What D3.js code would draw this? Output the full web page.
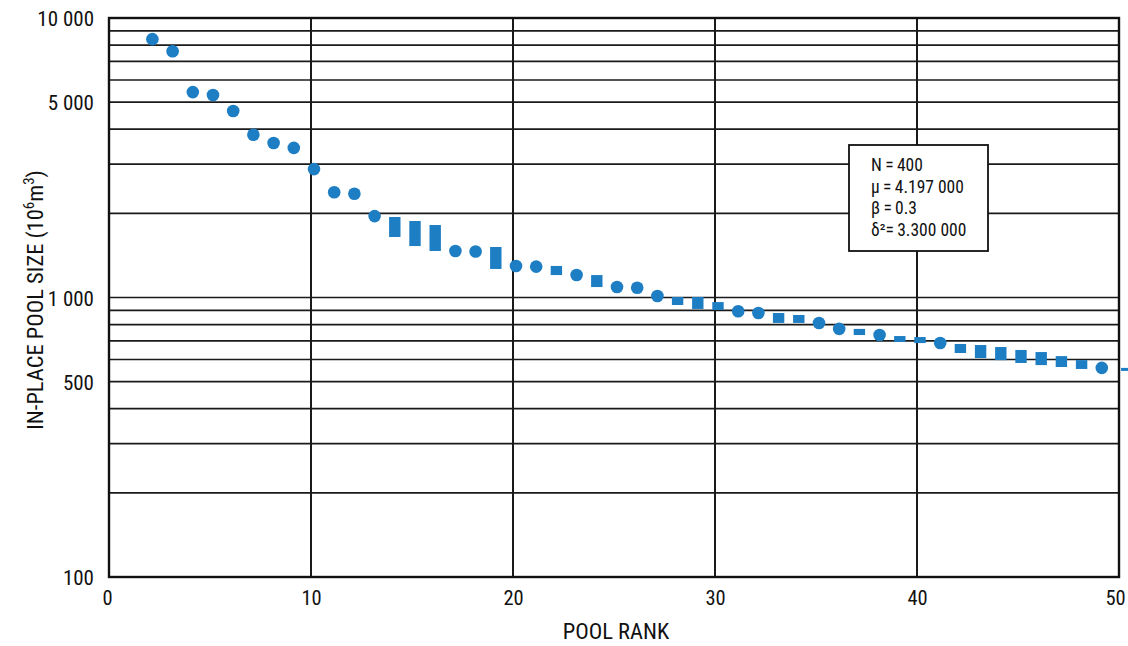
<!DOCTYPE html>
<html>
<head>
<meta charset="utf-8">
<script src="https://cdn.jsdelivr.net/npm/d3@7"></script>
<style>
  html, body { margin: 0; padding: 0; background: #fff; }
  svg { display: block; }
  text { font-family: "Liberation Sans Narrow", "Arial Narrow", "Roboto Condensed", "Liberation Sans", sans-serif; fill: #111; }
</style>
</head>
<body>
<svg id="chart" width="1128" height="646"></svg>
<script>
// ---- data ----
const circleRanks  = [2, 3, 4, 5, 6, 7, 8, 9, 10, 11, 12, 13, 17, 18, 20, 21, 23, 25, 26, 27, 31, 32, 35, 36, 38, 41, 49];
const circleValues = [8400, 7600, 5430, 5300, 4650, 3820, 3570, 3430, 2880, 2380, 2350, 1955, 1467, 1460, 1297, 1290, 1203, 1090, 1083, 1012, 893, 880, 811, 772, 734, 687, 560];

const rectRanks = [14, 15, 16, 19, 22, 24, 28, 29, 30, 33, 34, 37, 39, 40, 42, 43, 44, 45, 46, 47, 48];
const rectHigh  = [1941, 1878, 1817, 1516, 1297, 1203, 1004, 1004, 963, 880, 866, 772, 728, 722, 682, 676, 665, 649, 638, 617, 597];
const rectLow   = [1646, 1528, 1467, 1265, 1203, 1090, 940, 910, 902, 811, 811, 734, 693, 687, 633, 607, 597, 583, 573, 564, 555];

const dashRanks  = [50.2];
const dashValues = [553];

const yTickValues = [10000, 5000, 1000, 500, 100];
const yTickLabels = ["10 000", "5 000", "1 000", "500", "100"];
const yGridValues = [9000, 8000, 7000, 6000, 5000, 4000, 3000, 2000, 1000, 900, 800, 700, 600, 500, 400, 300, 200];
const xTickValues = [0, 10, 20, 30, 40, 50];

const statsLines = ["N\u2009=\u2009400", "\u00b5\u2009=\u20094.197 000", "\u03b2\u2009=\u20090.3", "\u03b4\u00b2=\u20093.300 000"];

// ---- layout ----
const svg = d3.select("#chart");
const L = 109, R = 1119, T = 18, B = 577;
const blue = "#1e7ec4";
const markerDx = 3;

const x = d3.scaleLinear().domain([0, 50]).range([L, R]);
const y = d3.scaleLog().domain([100, 10000]).range([B, T]);

// grid
const grid = svg.append("g");
grid.selectAll("line.h").data(yGridValues).join("line")
  .attr("x1", L).attr("x2", R)
  .attr("y1", d => y(d)).attr("y2", d => y(d))
  .attr("stroke", "#1a1a1a").attr("stroke-width", 1.7);
grid.selectAll("line.v").data([10, 20, 30, 40]).join("line")
  .attr("y1", T).attr("y2", B)
  .attr("x1", d => x(d)).attr("x2", d => x(d))
  .attr("stroke", "#1a1a1a").attr("stroke-width", 2);

// frame
svg.append("rect").attr("x", L).attr("y", T).attr("width", R - L).attr("height", B - T)
  .attr("fill", "none").attr("stroke", "#111").attr("stroke-width", 2.4);

// y axis labels
const yAxis = d3.axisLeft(y).tickValues(yTickValues)
  .tickFormat((d, i) => yTickLabels[i]).tickSize(0).tickPadding(15);
const gy = svg.append("g").attr("transform", `translate(${L},0)`).call(yAxis);
gy.select(".domain").remove();
gy.selectAll("text").style("font-size", "21px").attr("dy", "0.36em");

// x axis labels
const xAxis = d3.axisBottom(x).tickValues(xTickValues).tickSize(0).tickPadding(13);
const gx = svg.append("g").attr("transform", `translate(0,${B})`).call(xAxis);
gx.select(".domain").remove();
gx.selectAll("text").style("font-size", "20.5px")
  .attr("dx", d => d === 50 ? -4 : (d === 0 ? -2 : 0));

// axis titles
svg.append("text").attr("x", (L + R) / 2 + 2).attr("y", 639)
  .attr("text-anchor", "middle").style("font-size", "22.5px").text("POOL RANK");

const yt = svg.append("text")
  .attr("transform", `translate(43,${300}) rotate(-90)`)
  .attr("text-anchor", "middle").style("font-size", "22.5px");
yt.append("tspan").text("IN-PLACE POOL SIZE (10");
yt.append("tspan").attr("dy", -9).style("font-size", "15px").text("6");
yt.append("tspan").attr("dy", 9).text("m");
yt.append("tspan").attr("dy", -9).style("font-size", "15px").text("3");
yt.append("tspan").attr("dy", 9).text(")");

// stats box
const bx = 849, by = 145, bw = 139, bh = 106;
svg.append("rect").attr("x", bx).attr("y", by).attr("width", bw).attr("height", bh)
  .attr("fill", "#fff").attr("stroke", "#111").attr("stroke-width", 1.8);
svg.append("g").selectAll("text").data(statsLines).join("text")
  .attr("x", 871).attr("y", (d, i) => 171 + i * 21.7)
  .style("font-size", "17.5px").text(d => d);

// markers
svg.append("g").selectAll("circle")
  .data(circleRanks.map((r, i) => ({ r, v: circleValues[i] })))
  .join("circle")
  .attr("cx", d => x(d.r) + markerDx).attr("cy", d => y(d.v)).attr("r", 6.3)
  .attr("fill", blue);

svg.append("g").selectAll("rect")
  .data(rectRanks.map((r, i) => ({ r, hi: rectHigh[i], lo: rectLow[i] })))
  .join("rect")
  .attr("x", d => x(d.r) + markerDx - 5.7).attr("width", 11.4)
  .attr("y", d => y(d.hi)).attr("height", d => y(d.lo) - y(d.hi))
  .attr("fill", blue);

svg.append("g").selectAll("rect")
  .data(dashRanks.map((r, i) => ({ r, v: dashValues[i] })))
  .join("rect")
  .attr("x", d => x(d.r) + markerDx - 5).attr("width", 10)
  .attr("y", d => y(d.v) - 1.5).attr("height", 3)
  .attr("fill", blue);
</script>
</body>
</html>
